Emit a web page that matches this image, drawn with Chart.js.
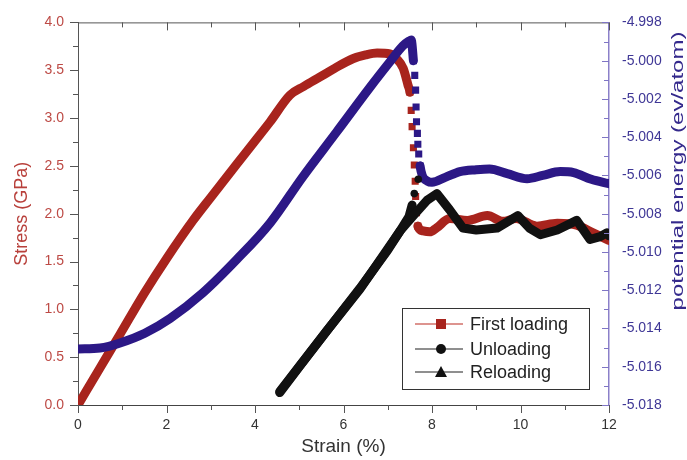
<!DOCTYPE html>
<html>
<head>
<meta charset="utf-8">
<title>Stress and potential energy vs strain</title>
<script src="https://cdn.jsdelivr.net/npm/chart.js@4.4.1/dist/chart.umd.min.js"></script>
<style>
  html, body { margin: 0; padding: 0; background: #fff; }
  #wrap { width: 687px; height: 460px; }
</style>
</head>
<body>
<div id="wrap"><canvas id="chart" width="687" height="460"></canvas></div>
<script>
// First loading (stress, GPa)
const loadStrain = [0, 0.5, 0.95, 1.5, 2.0, 2.6, 3.0, 3.59, 4.0, 4.34, 4.79, 5.1, 5.47, 5.8, 6.21, 6.5, 6.76, 7.05, 7.2, 7.35, 7.46,
  7.5, 7.53, 7.55, 7.58, 7.6, 7.62, 7.63, 7.65, 7.68,
  7.8, 7.95, 8.1, 8.4, 8.8, 9.25, 9.6, 9.9, 10.37, 10.83, 11.27, 11.64, 12.0];
const loadStress = [0, 0.39, 0.74, 1.17, 1.53, 1.93, 2.17, 2.52, 2.76, 2.96, 3.24, 3.33, 3.43, 3.52, 3.62, 3.66, 3.68, 3.67, 3.62, 3.52, 3.34,
  3.27, 3.08, 2.91, 2.69, 2.51, 2.34, 2.18, 2.01, 1.87,
  1.82, 1.81, 1.85, 1.95, 1.93, 1.98, 1.92, 1.95, 1.87, 1.9, 1.88, 1.8, 1.72];

// Unloading (stress, GPa)
const unloadStrain = [7.69, 7.6, 7.55, 7.48, 7.28, 6.37, 5.63, 4.56];
const unloadStress = [2.36, 2.21, 2.09, 1.97, 1.82, 1.21, 0.78, 0.14];

// Reloading (stress, GPa)
const reloadStrain = [4.56, 5.0, 5.63, 6.37, 7.0, 7.28, 7.6, 7.89, 8.11, 8.4, 8.7, 9.0, 9.47, 9.94, 10.2, 10.45, 10.83, 11.27, 11.57, 11.8, 11.95, 12.0];
const reloadStress = [0.13, 0.4, 0.78, 1.22, 1.62, 1.82, 1.99, 2.14, 2.21, 2.04, 1.85, 1.83, 1.85, 1.98, 1.85, 1.78, 1.83, 1.93, 1.73, 1.76, 1.8, 1.77];

// Potential energy (ev/atom), right axis
const energyStrain = [0, 0.5, 0.95, 1.51, 2.08, 2.82, 3.59, 4.34, 5.08, 5.85, 6.6, 7.05, 7.34, 7.48, 7.53,
  7.58, 7.61, 7.63, 7.64, 7.65, 7.67, 7.68, 7.7, 7.73,
  7.78, 7.9, 8.0, 8.3, 8.63, 9.0, 9.3, 9.7, 10.15, 10.5, 10.9, 11.2, 11.6, 12.0];
const energyValue = [-5.01507, -5.01502, -5.01476, -5.01425, -5.01348, -5.01214, -5.01039, -5.00849, -5.00607, -5.00371, -5.00139, -5.00006, -4.99923, -4.99898, -4.99892,
  -5.0, -5.00077, -5.00154, -5.00242, -5.00319, -5.0038, -5.00437, -5.00488, -5.0055,
  -5.006, -5.0063, -5.00636, -5.0061, -5.0058, -5.0057, -5.00566, -5.0059, -5.00617, -5.006, -5.0058, -5.00585, -5.0062, -5.00643];

const stressTicks = { min: 0, max: 4, step: 0.25 };
const energyTicks = { min: -5.018, max: -4.998, step: 0.001 };
const strainTicks = { min: 0, max: 12, step: 1 };

const RED = '#a8241d';
const BLUE = '#2c1886';
const BLACK = '#111111';
const FONT = '"Liberation Sans", Arial, Helvetica, sans-serif';

Chart.defaults.font.family = FONT;

const toPoints = (xs, ys) => xs.map((x, i) => ({ x: x, y: ys[i] }));

// points inside [lo, hi] are drawn as separate markers, not joined
function sparse(xs, lo, hi, radius) {
  const inside = i => xs[i] >= lo && xs[i] <= hi;
  return {
    pointRadius: c => (inside(c.dataIndex) ? radius : 0),
    pointHoverRadius: c => (inside(c.dataIndex) ? radius : 0),
    segment: {
      borderColor: c => (inside(c.p0DataIndex) && inside(c.p1DataIndex) ? 'rgba(0,0,0,0)' : undefined)
    }
  };
}

const lineBase = {
  borderWidth: 9,
  borderJoinStyle: 'round',
  borderCapStyle: 'round',
  fill: false,
  pointBorderWidth: 0
};
const smooth = { cubicInterpolationMode: 'monotone' };
const straight = { tension: 0 };

// frame: top border and all the tick marks
const framePlugin = {
  id: 'frame',
  afterDraw(chart) {
    const { ctx, chartArea: a, scales } = chart;
    ctx.save();
    ctx.lineWidth = 1;
    ctx.strokeStyle = '#555';
    ctx.beginPath();
    ctx.moveTo(a.left, a.top + 0.5);
    ctx.lineTo(a.right, a.top + 0.5);
    scales.x.ticks.forEach(t => {
      const px = Math.round(scales.x.getPixelForValue(t.value)) + 0.5;
      const len = t.label !== '' ? 8 : 5;
      ctx.moveTo(px, a.bottom);
      ctx.lineTo(px, a.bottom + len);
      ctx.moveTo(px, a.top);
      ctx.lineTo(px, a.top + len);
    });
    scales.y.ticks.forEach(t => {
      const py = Math.round(scales.y.getPixelForValue(t.value)) + 0.5;
      const len = t.label !== '' ? 8 : 5;
      ctx.moveTo(a.left - len, py);
      ctx.lineTo(a.left, py);
    });
    ctx.stroke();

    ctx.strokeStyle = '#7f75c4';
    ctx.beginPath();
    scales.y1.ticks.forEach(t => {
      const py = Math.round(scales.y1.getPixelForValue(t.value)) + 0.5;
      const len = t.label !== '' ? 7 : 5;
      ctx.moveTo(a.right - len, py);
      ctx.lineTo(a.right, py);
    });
    ctx.stroke();

    // right axis title reads bottom to top
    ctx.translate(679, 171);
    ctx.rotate(-Math.PI / 2);
    ctx.scale(1.5, 1);
    ctx.font = '16px ' + FONT;
    ctx.fillStyle = '#34298c';
    ctx.textAlign = 'center';
    ctx.textBaseline = 'middle';
    ctx.fillText('potential energy (ev/atom)', 0, 0);
    ctx.restore();
  }
};

const legendEntries = [
  { label: 'First loading', fill: RED, line: '#d2706a', style: 'rect' },
  { label: 'Unloading', fill: BLACK, line: '#6a6a6a', style: 'circle' },
  { label: 'Reloading', fill: BLACK, line: '#6a6a6a', style: 'triangle' }
];

const legendPlugin = {
  id: 'boxLegend',
  afterDraw(chart) {
    const ctx = chart.ctx;
    ctx.save();
    ctx.fillStyle = '#fff';
    ctx.fillRect(402, 308, 187, 81);
    ctx.strokeStyle = '#333';
    ctx.lineWidth = 1;
    ctx.strokeRect(402.5, 308.5, 187, 81);
    const rows = [324, 349, 372];
    legendEntries.forEach((e, i) => {
      const y = rows[i];
      ctx.strokeStyle = e.line;
      ctx.lineWidth = 1.3;
      ctx.beginPath();
      ctx.moveTo(415, y);
      ctx.lineTo(463, y);
      ctx.stroke();
      ctx.fillStyle = e.fill;
      ctx.beginPath();
      if (e.style === 'rect') {
        ctx.rect(436, y - 5, 10, 10);
      } else if (e.style === 'circle') {
        ctx.arc(441, y, 5, 0, Math.PI * 2);
      } else {
        ctx.moveTo(441, y - 6);
        ctx.lineTo(447, y + 5);
        ctx.lineTo(435, y + 5);
        ctx.closePath();
      }
      ctx.fill();
      ctx.fillStyle = '#222';
      ctx.font = '18px ' + FONT;
      ctx.textAlign = 'left';
      ctx.textBaseline = 'middle';
      ctx.fillText(e.label, 470, y + 1);
    });
    ctx.restore();
  }
};

document.addEventListener('DOMContentLoaded', () => {
  const ctx = document.getElementById('chart').getContext('2d');

  new Chart(ctx, {
    type: 'line',
    data: {
      datasets: [
        Object.assign({}, lineBase, straight, sparse(reloadStrain, 99, 99, 0), {
          label: 'Reloading',
          data: toPoints(reloadStrain, reloadStress),
          borderColor: BLACK,
          backgroundColor: BLACK,
          yAxisID: 'y',
          order: 0
        }),
        Object.assign({}, lineBase, straight, sparse(unloadStrain, 7.52, 7.7, 3.8), {
          label: 'Unloading',
          data: toPoints(unloadStrain, unloadStress),
          borderColor: BLACK,
          backgroundColor: BLACK,
          pointStyle: 'circle',
          yAxisID: 'y',
          order: 1
        }),
        Object.assign({}, lineBase, smooth, sparse(energyStrain, 7.57, 7.74, 5), {
          label: 'Potential energy',
          data: toPoints(energyStrain, energyValue),
          borderColor: BLUE,
          backgroundColor: BLUE,
          pointStyle: 'rect',
          yAxisID: 'y1',
          order: 2
        }),
        Object.assign({}, lineBase, smooth, sparse(loadStrain, 7.48, 7.7, 5), {
          label: 'First loading',
          data: toPoints(loadStrain, loadStress),
          borderColor: RED,
          backgroundColor: RED,
          pointStyle: 'rect',
          yAxisID: 'y',
          order: 3
        })
      ]
    },
    options: {
      responsive: false,
      animation: false,
      layout: { padding: { top: 16, left: 0, right: 0, bottom: 0 } },
      plugins: {
        legend: { display: false },
        tooltip: { enabled: false }
      },
      scales: {
        x: {
          type: 'linear',
          min: strainTicks.min,
          max: strainTicks.max,
          grid: { display: false, drawTicks: false },
          border: { display: true, color: '#444', width: 1 },
          ticks: {
            stepSize: strainTicks.step,
            autoSkip: false,
            maxRotation: 0,
            padding: 12,
            color: '#333',
            font: { size: 14 },
            callback: v => (v % 2 === 0 ? String(v) : '')
          },
          title: {
            display: true,
            text: 'Strain (%)',
            color: '#333',
            font: { size: 19 },
            padding: { top: 0, bottom: 2 }
          },
          afterFit: s => { s.height = 55; }
        },
        y: {
          position: 'left',
          min: stressTicks.min,
          max: stressTicks.max,
          grid: { display: false, drawTicks: false },
          border: { display: true, color: '#555', width: 1 },
          ticks: {
            stepSize: stressTicks.step,
            autoSkip: false,
            padding: 14,
            color: '#bd4a45',
            font: { size: 14 },
            callback: v => (Math.round(v * 4) % 2 === 0 ? v.toFixed(1) : '')
          },
          title: {
            display: true,
            text: 'Stress (GPa)',
            color: '#b8403b',
            font: { size: 18 },
            padding: { top: 11, bottom: 0 }
          },
          afterFit: s => { s.width = 78; }
        },
        y1: {
          position: 'right',
          min: energyTicks.min,
          max: energyTicks.max,
          grid: { display: false, drawTicks: false },
          border: { display: true, color: '#8b80c9', width: 1.5 },
          ticks: {
            stepSize: energyTicks.step,
            autoSkip: false,
            padding: 13,
            color: '#3f3796',
            font: { size: 14 },
            callback: v => (Math.round(-v * 1000) % 2 === 0 ? v.toFixed(3) : '')
          },
          afterFit: s => { s.width = 78; }
        }
      }
    },
    plugins: [framePlugin, legendPlugin]
  });
});
</script>
</body>
</html>
